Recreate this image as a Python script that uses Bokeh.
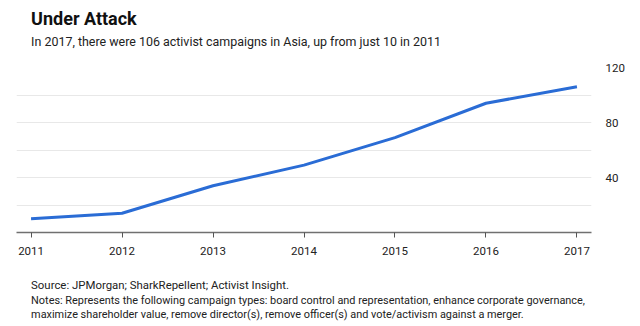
from bokeh.plotting import figure
from bokeh.layouts import column
from bokeh.models import LinearAxis, Range1d, FixedTicker, ColumnDataSource
from bokeh.core.properties import value
from bokeh.embed import file_html
from bokeh.resources import INLINE

years = [2011, 2012, 2013, 2014, 2015, 2016, 2017]
campaigns = [10, 14, 34, 49, 69, 94, 106]
y_labels = [40, 80, 120]
y_grid = [20, 40, 60, 80, 100, 120]

title_txt = "Under Attack"
subtitle_txt = "In 2017, there were 106 activist campaigns in Asia, up from just 10 in 2011"
source_txt = "Source: JPMorgan; SharkRepellent; Activist Insight."
notes1_txt = "Notes: Represents the following campaign types: board control and representation, enhance corporate governance,"
notes2_txt = "maximize shareholder value, remove director(s), remove officer(s) and vote/activism against a merger."

FONT = "Roboto"
W = 640
TOP_H, CHART_H, BOT_H = 60, 202, 64
TEXT_W = 591  # text panels' frames line up with the chart frame's right edge


def text_panel(h):
    f = figure(width=W, height=h, output_backend="svg", toolbar_location=None,
               x_range=Range1d(0, TEXT_W), y_range=Range1d(h, 0),
               x_axis_location=None, y_axis_location=None,
               min_border=0, min_border_left=0, min_border_right=0,
               min_border_top=0, min_border_bottom=0)
    f.outline_line_color = None
    f.grid.visible = False
    return f


def put(f, txt, cy, size, bold=False):
    f.text(x=[15], y=[cy], text=[txt], text_font=value(FONT),
           text_font_size=value(size),
           text_font_style="bold" if bold else "normal",
           text_color="#111111" if bold else "#222222",
           text_baseline="middle", text_align="left")


top = text_panel(TOP_H)
put(top, title_txt, 18, "18px", bold=True)
put(top, subtitle_txt, 41, "12.45px")

p = figure(width=W, height=CHART_H, output_backend="svg", toolbar_location=None,
           x_range=Range1d(2010.84, 2017.16), y_range=Range1d(0, 120),
           y_axis_location=None, x_axis_location=None,
           min_border_left=16, min_border_right=49,
           min_border_top=7, min_border_bottom=30)
p.outline_line_color = None

src = ColumnDataSource(dict(x=years, y=campaigns))
p.line("x", "y", source=src, line_color="#2a6cd5", line_width=3)

xa = LinearAxis(ticker=FixedTicker(ticks=years))
xa.axis_line_color = "#707070"
xa.axis_line_width = 1.5
xa.major_tick_line_color = "#555555"
xa.major_tick_in = 0
xa.major_tick_out = 5
xa.minor_tick_line_color = None
xa.major_label_text_font = FONT
xa.major_label_text_font_size = "11.5px"
xa.major_label_text_color = "#222222"
xa.major_label_standoff = 9
p.add_layout(xa, "below")

ya = LinearAxis(ticker=FixedTicker(ticks=y_labels))
ya.axis_line_color = None
ya.major_tick_line_color = None
ya.minor_tick_line_color = None
ya.major_label_text_font = FONT
ya.major_label_text_font_size = "11.5px"
ya.major_label_text_color = "#222222"
ya.major_label_standoff = 8
p.add_layout(ya, "right")

p.xgrid.visible = False
p.ygrid.ticker = FixedTicker(ticks=y_grid)
p.ygrid.grid_line_color = "#e8e8e8"
p.ygrid.grid_line_width = 1

bot = text_panel(BOT_H)
put(bot, source_txt, 22, "11.4px")
put(bot, notes1_txt, 38, "10.9px")
put(bot, notes2_txt, 52, "10.9px")

layout = column(top, p, bot, spacing=0)
open("out.html", "w").write(file_html(layout, INLINE))
